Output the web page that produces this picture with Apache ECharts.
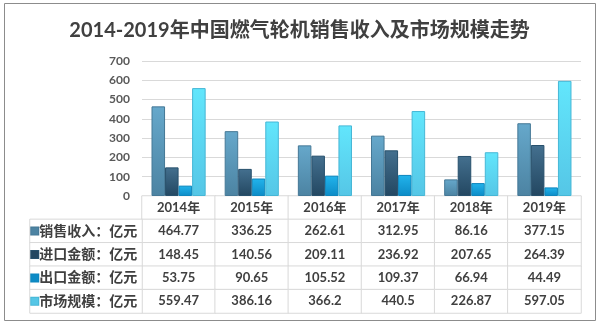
<!DOCTYPE html>
<html><head><meta charset="utf-8">
<script src="https://cdn.jsdelivr.net/npm/echarts@6/dist/echarts.min.js"></script>
<style>html,body{margin:0;padding:0;background:#fff}#c{width:599px;height:326px}</style>
</head><body><div id="c"></div>
<script>
var titleText = '2014-2019年中国燃气轮机销售收入及市场规模走势';
var years = ['2014年','2015年','2016年','2017年','2018年','2019年'];
var seriesNames = ['销售收入：亿元','进口金额：亿元','出口金额：亿元','市场规模：亿元'];
var sales = [464.77, 336.25, 262.61, 312.95, 86.16, 377.15];
var imports = [148.45, 140.56, 209.11, 236.92, 207.65, 264.39];
var exports = [53.75, 90.65, 105.52, 109.37, 66.94, 44.49];
var market = [559.47, 386.16, 366.2, 440.5, 226.87, 597.05];
var yTicks = [0, 100, 200, 300, 400, 500, 600, 700];

var allSeries = [sales, imports, exports, market];
var colors = [
  ['#66A8CB', '#4C83A2', '#457896'],
  ['#44708F', '#234761', '#27506C'],
  ['#22B4EC', '#0C8BC6', '#0E86BD'],
  ['#62E6FC', '#55C6E6', '#46B7D6']
];
var FONT = "Lato, 'Noto Sans CJK SC', sans-serif";
var textColor = '#404040';
var lineColor = '#d9d9d9';

var chart = echarts.init(document.getElementById('c'), null, {renderer: 'canvas'});

var barSeries = allSeries.map(function (arr, k) {
  return {
    type: 'bar', name: seriesNames[k], xAxisIndex: 0, yAxisIndex: 0,
    data: arr, barGap: '0%', barCategoryGap: '26%',
    itemStyle: {
      color: new echarts.graphic.LinearGradient(0, 0, 0, 1, [
        {offset: 0, color: colors[k][0]}, {offset: 1, color: colors[k][1]}
      ]),
      borderColor: colors[k][2], borderWidth: 1
    }
  };
});

var tableData = [];
years.forEach(function (y, i) { tableData.push({value: [i, 0, 0], lbl: y}); });
allSeries.forEach(function (arr, k) {
  arr.forEach(function (v, i) { tableData.push({value: [i, k + 1, v], lbl: String(v)}); });
});
var legendData = seriesNames.map(function (n, k) { return {value: [0, k, 0], lbl: n, k: k}; });

var rich = {t: {fontFamily: FONT, fontSize: 14, fontWeight: 'bold', color: textColor, padding: [0, 0, 0, 1]}};
colors.forEach(function (c, k) {
  rich['s' + k] = {width: 7, height: 7, backgroundColor: c[1], borderColor: c[2], borderWidth: 1};
});

var option = {
  animation: false,
  textStyle: {fontFamily: FONT},
  title: {
    text: titleText, left: 'center', top: 16,
    textStyle: {fontFamily: FONT, fontSize: 20, fontWeight: 'bold', color: textColor}
  },
  graphic: [{
    type: 'rect', shape: {x: 4.5, y: 3.5, width: 591, height: 317},
    style: {fill: 'none', stroke: '#8c8c8c', lineWidth: 1}, silent: true, z: -1
  }],
  grid: [
    {left: 142, right: 18, top: 61, bottom: 130},
    {left: 142, right: 18, top: 196, height: 117},
    {left: 30, width: 112, top: 219.4, height: 93.6}
  ],
  xAxis: [
    {type: 'category', gridIndex: 0, data: years,
     axisLine: {lineStyle: {color: lineColor}}, axisTick: {show: false}, axisLabel: {show: false}},
    {type: 'category', gridIndex: 1, data: years, show: false},
    {type: 'category', gridIndex: 2, data: ['l'], show: false}
  ],
  yAxis: [
    {type: 'value', gridIndex: 0, min: yTicks[0], max: yTicks[yTicks.length - 1], interval: 100,
     axisLine: {show: false}, axisTick: {show: false},
     splitLine: {lineStyle: {color: lineColor}},
     axisLabel: {margin: 12, fontFamily: FONT, fontSize: 12, fontWeight: 'bold', color: '#595959'}},
    {type: 'category', gridIndex: 1, data: ['h', 'a', 'b', 'c', 'd'], inverse: true, show: false},
    {type: 'category', gridIndex: 2, data: ['a', 'b', 'c', 'd'], inverse: true, show: false}
  ],
  series: barSeries.concat([
    {type: 'heatmap', xAxisIndex: 1, yAxisIndex: 1, data: tableData,
     itemStyle: {color: '#fff', borderColor: lineColor, borderWidth: 1},
     label: {show: true, fontFamily: FONT, fontSize: 13, fontWeight: 'bold', color: textColor,
             formatter: function (p) { return p.data.lbl; }},
     emphasis: {disabled: true}},
    {type: 'heatmap', xAxisIndex: 2, yAxisIndex: 2, data: legendData,
     itemStyle: {color: '#fff', borderColor: lineColor, borderWidth: 1},
     label: {show: true, position: 'insideLeft', distance: 2, rich: rich,
             formatter: function (p) { return '{s' + p.data.k + '|}{t|' + p.data.lbl + '}'; }},
     emphasis: {disabled: true}}
  ])
};
chart.setOption(option);
</script></body></html>
